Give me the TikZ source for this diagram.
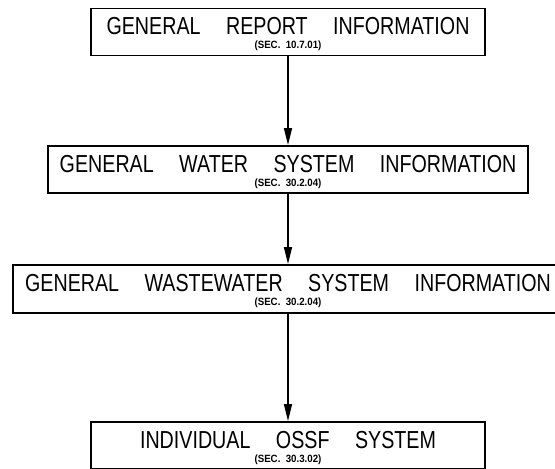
\documentclass[tikz,border=0pt]{standalone}
\usepackage{fontspec}
\newfontfamily\cadfont[FakeStretch=0.8]{Liberation Sans}
\newfontfamily\secfont[FakeStretch=0.92]{Liberation Sans}
\usetikzlibrary{positioning,calc,arrows.meta}
\newcommand{\wgap}{\hspace{14.5pt}}

\begin{document}
\begin{tikzpicture}[x=0.02cm, y=-0.02cm,
    secbox/.style={draw, line width=1.1pt, minimum height=0.94cm, inner sep=0pt},
    headtext/.style={font=\cadfont\fontsize{14}{16}\selectfont, inner sep=0pt, anchor=base},
    sectext/.style={font=\secfont\bfseries\fontsize{6}{7}\selectfont, inner sep=0pt, anchor=base},
    flow/.style={line width=0.9pt, -{Triangle[length=0.34cm, width=0.16cm]}}
]
    \useasboundingbox (0,0) rectangle (555,469);

    % boxes
    \node[secbox, minimum width=7.88cm] (report) at (288,32) {};
    \node[secbox, minimum width=9.6cm] (water) at (288,169.5) {};
    \node[secbox, minimum width=11cm, minimum height=0.96cm] (waste) at (288,289) {};
    \node[secbox, minimum width=7.88cm] (ossf) at (288,445.5) {};

    % titles
    \foreach \b/\t/\s in {report/{GENERAL\wgap REPORT\wgap INFORMATION}/10.7.01,
                          water/{GENERAL\wgap WATER\wgap SYSTEM\wgap INFORMATION}/30.2.04,
                          waste/{GENERAL\wgap WASTEWATER\wgap SYSTEM\wgap INFORMATION}/30.2.04,
                          ossf/{INDIVIDUAL\wgap OSSF\wgap SYSTEM}/30.3.02} {
        \node[headtext] (\b-head) at ($(\b.north)+(0,27)$) {\t};
        \node[sectext] (\b-sec) at ($(\b.north)+(0,41)$) {(SEC.\ \ \s)};
    }

    % flow
    \draw[flow] (report) -- (water);
    \draw[flow] (water) -- (waste);
    \draw[flow] (waste) -- (ossf);
\end{tikzpicture}
\end{document}
